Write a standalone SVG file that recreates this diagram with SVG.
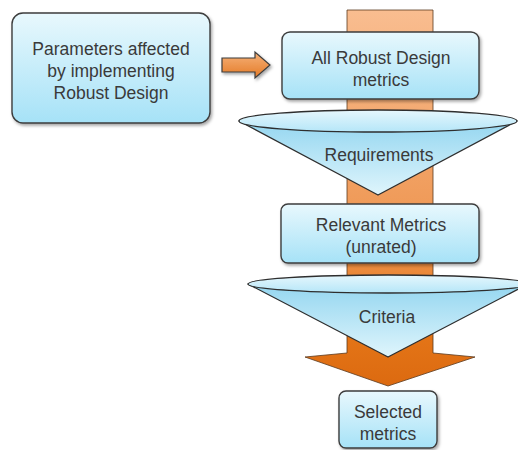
<svg xmlns="http://www.w3.org/2000/svg" width="518" height="450" viewBox="0 0 518 450">
<defs>
<linearGradient id="boxG" x1="0" y1="0" x2="0" y2="1">
<stop offset="0" stop-color="#e8f8fd"/><stop offset="1" stop-color="#a6e2f7"/>
</linearGradient>
<linearGradient id="funG" x1="0" y1="0" x2="0" y2="1">
<stop offset="0" stop-color="#94d6f0"/><stop offset="1" stop-color="#dff5fc"/>
</linearGradient>
<linearGradient id="ellG" x1="0" y1="0" x2="0" y2="1">
<stop offset="0" stop-color="#e6f7fd"/><stop offset="1" stop-color="#b5e6f8"/>
</linearGradient>
<linearGradient id="colG" x1="0" y1="0" x2="0" y2="1">
<stop offset="0" stop-color="#f9bd90"/><stop offset="0.6" stop-color="#ee9550"/><stop offset="0.85" stop-color="#e57618"/><stop offset="1" stop-color="#dc6a10"/>
</linearGradient>
<linearGradient id="arrG" x1="0" y1="0" x2="0" y2="1">
<stop offset="0" stop-color="#f6b27a"/><stop offset="1" stop-color="#e47a26"/>
</linearGradient>
<filter id="sh" x="-10%" y="-10%" width="130%" height="130%">
<feDropShadow dx="1.5" dy="2" stdDeviation="1.5" flood-color="#000" flood-opacity="0.35"/>
</filter>
</defs>
<style>
.box{fill:url(#boxG);stroke:#3c3c3c;stroke-width:1.4;filter:url(#sh)}
.fun{fill:url(#funG);stroke:#2e2e2e;stroke-width:1.3;stroke-linejoin:round}
.ell{fill:url(#ellG);stroke:#2e2e2e;stroke-width:1.3}
text{font-family:"Liberation Sans",Arial,sans-serif;font-size:17.5px;fill:#3a3a3a;text-anchor:middle}
</style>
<g id="connectors">
<path d="M347,10 H433 V353 L475,357 L388,386 L305,357 L347,353 Z" fill="url(#colG)" stroke="#5a3a20" stroke-width="0.8"/>
<path d="M222,58 H255 V52 L270,65 L255,78 V72 H222 Z" fill="url(#arrG)" stroke="#3c3c3c" stroke-width="1.2" filter="url(#sh)"/>
</g>
<g id="node-params">
<rect class="box" x="12" y="13" width="198" height="110" rx="11"/>
<text x="111" y="55">Parameters affected</text>
<text x="111" y="77">by implementing</text>
<text x="111" y="99">Robust Design</text>
</g>
<g id="node-all">
<rect class="box" x="282" y="32" width="197" height="67" rx="8"/>
<text x="381" y="64">All Robust Design</text>
<text x="381" y="86">metrics</text>
</g>
<g id="funnel-requirements">
<path class="fun" d="M239,121 L517,121 L378,195 Z"/>
<ellipse class="ell" cx="378" cy="121" rx="139" ry="11"/>
<text x="379" y="161">Requirements</text>
</g>
<g id="node-relevant">
<rect class="box" x="281" y="204" width="198" height="59" rx="7"/>
<text x="381" y="231">Relevant Metrics</text>
<text x="381" y="253">(unrated)</text>
</g>
<g id="funnel-criteria">
<path class="fun" d="M248,284 L528,284 L388,357 Z"/>
<ellipse class="ell" cx="388" cy="284" rx="140" ry="9"/>
<text x="387" y="323">Criteria</text>
</g>
<g id="node-selected">
<rect class="box" x="339" y="391" width="98" height="57" rx="7"/>
<text x="388" y="418">Selected</text>
<text x="388" y="440">metrics</text>
</g>
</svg>
